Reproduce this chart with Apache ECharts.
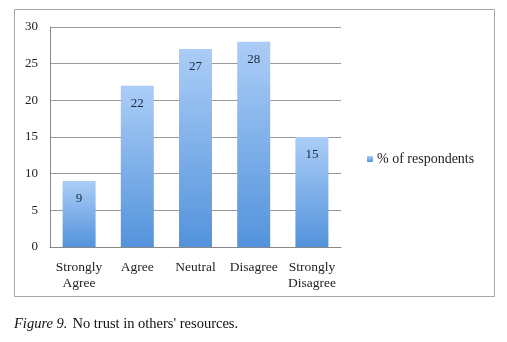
<!DOCTYPE html>
<html><head><meta charset="utf-8">
<script src="https://cdn.jsdelivr.net/npm/echarts@6/dist/echarts.min.js"></script>
<style>html,body{margin:0;padding:0;background:#fff}#c{width:507px;height:342px}</style>
</head><body><div id="c"></div>
<script>
const categories = ['Strongly\nAgree', 'Agree', 'Neutral', 'Disagree', 'Strongly\nDisagree'];
const values = [9, 22, 27, 28, 15];
const seriesName = '% of respondents';
const yTicks = {min: 0, max: 30, interval: 5};

const font = '"Liberation Serif", "DejaVu Serif", serif';
const chart = echarts.init(document.getElementById('c'), null, {renderer: 'canvas'});
chart.setOption({
  animation: false,
  backgroundColor: '#fff',
  title: {
    text: '{i|Figure 9.} {n|No trust in others\' resources.}',
    left: 14, top: 315, padding: 0,
    textStyle: {
      fontWeight: 'normal',
      rich: {
        i: {fontFamily: font, fontStyle: 'italic', fontWeight: 'normal', fontSize: 14.5, color: '#111'},
        n: {fontFamily: font, fontWeight: 'normal', fontSize: 14.5, color: '#111'}
      }
    }
  },
  graphic: [{
    type: 'rect', shape: {x: 14.5, y: 9.5, width: 480, height: 287},
    style: {fill: 'none', stroke: '#a6a6a6', lineWidth: 1}, silent: true
  }],
  legend: {
    data: [seriesName], left: 362, top: 147, itemWidth: 6, itemHeight: 6, itemGap: 4,
    icon: 'rect',
    textStyle: {fontFamily: font, fontSize: 14, color: '#222', padding: [0, 0, 0, -1]}
  },
  grid: {left: 50, right: 166, top: 27, bottom: 95},
  xAxis: {
    type: 'category', data: categories,
    axisLine: {lineStyle: {color: '#888', width: 1}},
    axisTick: {show: false},
    axisLabel: {interval: 0, fontFamily: font, fontSize: 13.5, color: '#222', margin: 12, lineHeight: 16}
  },
  yAxis: {
    type: 'value', min: yTicks.min, max: yTicks.max, interval: yTicks.interval,
    axisLine: {show: true, lineStyle: {color: '#888'}},
    axisTick: {show: false},
    splitLine: {lineStyle: {color: '#999', width: 1}},
    axisLabel: {fontFamily: font, fontSize: 13, color: '#222', margin: 12}
  },
  series: [{
    name: seriesName, type: 'bar', data: values, barWidth: 33,
    itemStyle: {
      color: new echarts.graphic.LinearGradient(0, 0, 0, 1, [
        {offset: 0, color: '#abcdf7'}, {offset: 1, color: '#5393dc'}
      ])
    },
    label: {
      show: true, position: 'insideTop', distance: 11,
      fontFamily: font, fontSize: 13, color: '#1c2840'
    }
  }]
});
</script></body></html>
